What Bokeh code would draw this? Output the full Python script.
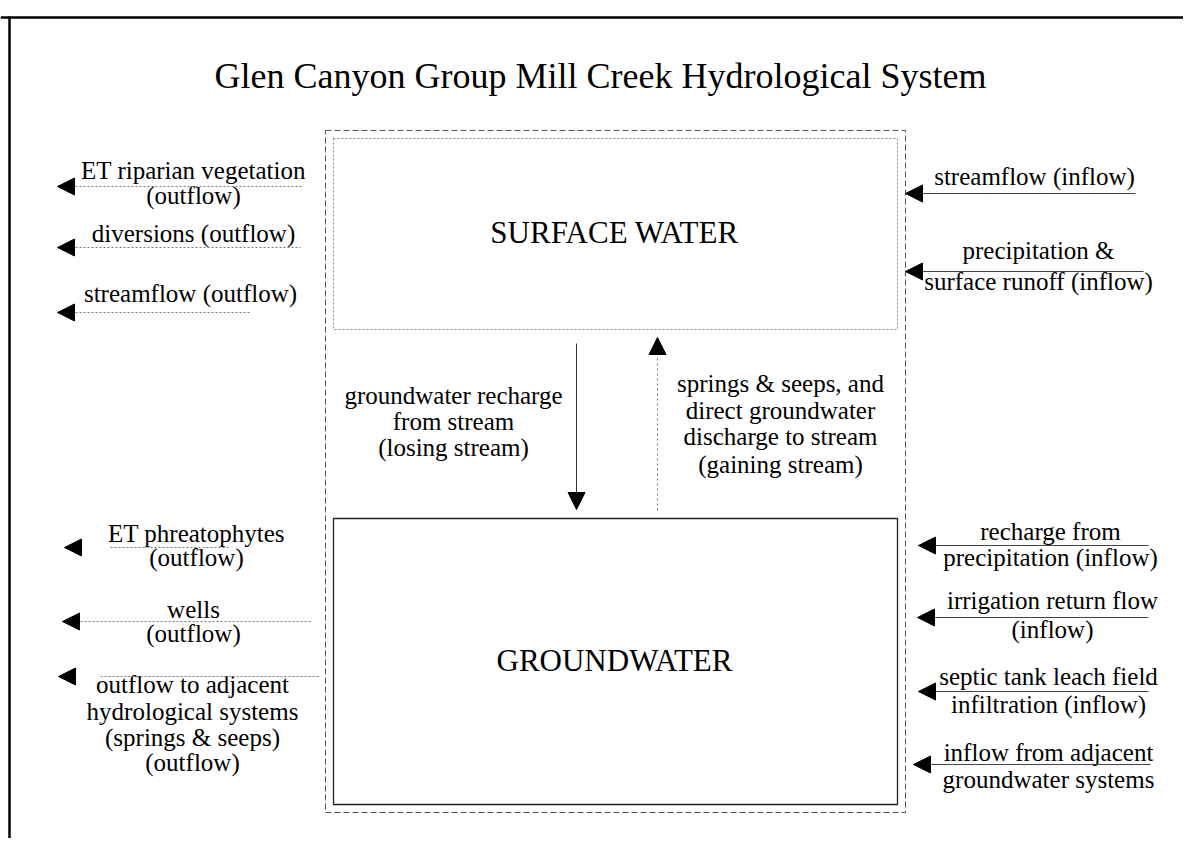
from bokeh.plotting import figure
from bokeh.models import Range1d, Arrow, NormalHead
from bokeh.core.properties import value
from bokeh.embed import file_html
from bokeh.resources import INLINE

# ---------------- content ----------------
title = "Glen Canyon Group Mill Creek Hydrological System"
box_labels = ["SURFACE WATER", "GROUNDWATER"]

left_flows = [
    ["ET riparian vegetation", "(outflow)"],
    ["diversions (outflow)"],
    ["streamflow (outflow)"],
    ["ET phreatophytes", "(outflow)"],
    ["wells", "(outflow)"],
    ["outflow to adjacent", "hydrological systems", "(springs & seeps)", "(outflow)"],
]
right_flows = [
    ["streamflow (inflow)"],
    ["precipitation &", "surface runoff (inflow)"],
    ["recharge from", "precipitation (inflow)"],
    ["irrigation return flow", "(inflow)"],
    ["septic tank leach field", "infiltration (inflow)"],
    ["inflow from adjacent", "groundwater systems"],
]
exchange_labels = [
    ["groundwater recharge", "from stream", "(losing stream)"],
    ["springs & seeps, and", "direct groundwater", "discharge to stream", "(gaining stream)"],
]

# ---------------- layout (pixel space of the picture) ----------------
left_text_x = [193, 193, 190, 196, 193, 192]
left_text_y = [[170, 195], [233], [293], [533, 557], [609, 633], [684, 711, 737, 762]]
left_arrow_y = [186, 247, 312, 547, 621, 676]
left_tip_x = [57, 57, 57, 64, 62, 58]
left_line = [(75, 302), (75, 300), (75, 250), (110, 230), (80, 310), (100, 320)]

right_text_x = [1034, 1038, 1050, 1052, 1048, 1048]
right_text_y = [[176], [250, 281], [531, 557], [600, 629], [676, 704], [752, 779]]
right_arrow_y = [193, 271, 545, 617, 691, 764]
right_tip_x = [905, 905, 918, 917, 918, 913]
right_line_end = [1135, 1143, 1148, 1148, 1148, 1150]

exch_text_x = [453, 780]
exch_text_y = [[395, 421, 447], [383, 410, 436, 464]]

FONT = value("Liberation Serif")

p = figure(width=1183, height=838, x_range=Range1d(0, 1183), y_range=Range1d(838, 0),
           output_backend="svg", toolbar_location=None, min_border=0)
p.axis.visible = False
p.grid.visible = False
p.outline_line_color = None
p.background_fill_color = "white"

# outer frame (top + left)
p.segment(x0=[0, 9], y0=[17, 16], x1=[1183, 9], y1=[17, 838], line_color="black", line_width=2.5)

# title
p.text(x=[600], y=[75], text=[title], text_font=FONT, text_font_size="36px",
       text_align="center", text_baseline="middle", text_color="black")

# system boundary (dashed)
p.quad(left=[325], right=[905], top=[130], bottom=[812], fill_color=None,
       line_color="#555555", line_dash="6 3", line_width=1)
# surface water box (dotted light)
p.quad(left=[333], right=[897], top=[138], bottom=[329], fill_color=None,
       line_color="#888888", line_dash="2 2", line_width=1)
# groundwater box (solid)
p.quad(left=[333], right=[897], top=[518], bottom=[804], fill_color=None,
       line_color="#222222", line_width=1.3)

p.text(x=[614, 614], y=[232, 660], text=box_labels, text_font=FONT, text_font_size="31px",
       text_align="center", text_baseline="middle", text_color="black")

def add_lines(xs, ys_list, labels):
    X, Y, T = [], [], []
    for x, ys, labs in zip(xs, ys_list, labels):
        for y, t in zip(ys, labs):
            X.append(x); Y.append(y); T.append(t)
    p.text(x=X, y=Y, text=T, text_font=FONT, text_font_size="25px",
           text_align="center", text_baseline="middle", text_color="black")

add_lines(left_text_x, left_text_y, left_flows)
add_lines(right_text_x, right_text_y, right_flows)
add_lines(exch_text_x, exch_text_y, exchange_labels)

def head():
    return NormalHead(size=17, fill_color="black", line_color="black", line_width=1)

# left outflow arrows: dotted line + separate head
for y, tip, (a, b) in zip(left_arrow_y, left_tip_x, left_line):
    p.segment(x0=[a], y0=[y], x1=[b], y1=[y], line_color="#777777", line_dash="2 2", line_width=1)
    p.add_layout(Arrow(end=head(), x_start=tip + 16, y_start=y, x_end=tip, y_end=y,
                       line_alpha=0))

# right inflow arrows
for y, tip, e in zip(right_arrow_y, right_tip_x, right_line_end):
    p.add_layout(Arrow(end=head(), x_start=e, y_start=y, x_end=tip, y_end=y,
                       line_color="#444444", line_width=1))

# exchange arrows
p.add_layout(Arrow(end=head(), x_start=576, y_start=343, x_end=576, y_end=509,
                   line_color="#333333", line_width=1))
p.add_layout(Arrow(end=head(), x_start=657, y_start=510, x_end=657, y_end=337,
                   line_color="#777777", line_dash="2 3", line_width=1))

open("out.html", "w").write(file_html(p, INLINE))
